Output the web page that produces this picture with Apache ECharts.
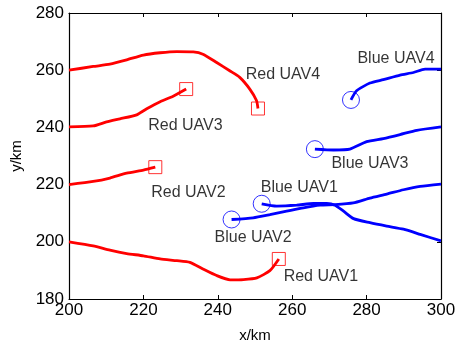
<!DOCTYPE html>
<html>
<head>
<meta charset="utf-8">
<script src="https://cdn.jsdelivr.net/npm/echarts@6/dist/echarts.min.js"></script>
<style>
  html, body { margin: 0; padding: 0; background: #fff; }
  #chart { width: 461px; height: 348px; }
</style>
</head>
<body>
<div id="chart"></div>
<script>
// flight paths, [x km, y km]
const redUav1 = [[200,200],[206.5,198.6],[211,197.1],[215.5,195.9],[220,195.1],[224.5,194],[229,193.4],[232.5,192.8],[236,190.5],[239.7,188.2],[243.3,186.7],[246.9,186.8],[250.5,187.4],[254,189.9],[256.4,194]];
const redUav2 = [[200,220],[206.5,221.1],[211,222.3],[215.5,224],[220,225.1],[223.2,226.1]];
const redUav3 = [[200,240.2],[206.5,240.5],[210.1,241.9],[213.7,243],[218.2,244.4],[220.9,246.5],[224.5,249],[228,250.9],[231.5,253.4]];
const redUav4 = [[200,260],[206.5,261.3],[211,262.1],[215.5,263.6],[220,265.3],[224.5,266.1],[229,266.5],[233.4,266.4],[236,265.6],[239.7,262.7],[243.2,259.8],[245.9,257.5],[248.6,253.4],[250.4,249.4],[250.8,246.6]];

const blueUav1 = [[251.8,213.3],[255.8,212.5],[261.2,212.8],[265.7,213.4],[269.3,213.4],[271.5,212.8],[273.8,210.7],[276.5,208.1],[280.9,206.7],[285.4,205.5],[289.9,204.4],[294.4,202.6],[300,200.3]];
const blueUav2 = [[243.7,207.8],[249.5,208.4],[254,209.5],[258.5,210.7],[263,211.9],[267.5,212.8],[271.5,213],[276.4,213.6],[280.9,215.3],[285.4,216.7],[289.9,218.2],[294.4,219.4],[300,220.2]];
const blueUav3 = [[266.1,232.4],[271.1,232.1],[275.5,232.4],[280,235],[284.5,236.1],[289,237.5],[293.5,239],[300,240.2]];
const blueUav4 = [[275.8,249.6],[277.3,252.8],[280.9,255.5],[284.5,256.7],[289,258.3],[292.6,259.2],[295.7,260.4],[300,260.4]];

// text annotations [x, y, name]
const redLabels = [[267.7,187.7,'Red UAV1'],[232.1,217.2,'Red UAV2'],[231.3,240.6,'Red UAV3'],[257.5,258.6,'Red UAV4']];
const blueLabels = [[261.9,219,'Blue UAV1'],[249.5,201.4,'Blue UAV2'],[280.9,227.3,'Blue UAV3'],[287.9,263.9,'Blue UAV4']];

const xTicks = { min: 200, max: 300, interval: 20 };
const yTicks = { min: 180, max: 280, interval: 20 };

const FONT = 'Liberation Sans, Arial, Helvetica, sans-serif';
const RED = '#ff0000';
const BLUE = '#0000ff';

const redPaths = [redUav1, redUav2, redUav3, redUav4];
const bluePaths = [blueUav1, blueUav2, blueUav3, blueUav4];

function pathSeries(data, color) {
    return {
        type: 'line',
        data: data,
        showSymbol: false,
        smooth: 0.2,
        lineStyle: { color: color, width: 2.8 },
        z: 3
    };
}

let series = [];
redPaths.forEach(p => series.push(pathSeries(p, RED)));
bluePaths.forEach(p => series.push(pathSeries(p, BLUE)));

// squares at red path ends, circles at blue path starts
series.push({
    type: 'scatter',
    data: redPaths.map(p => p[p.length - 1]),
    symbol: 'rect',
    symbolSize: 13,
    itemStyle: { color: 'rgba(0,0,0,0)', borderColor: RED, borderWidth: 1 },
    z: 4
});
series.push({
    type: 'scatter',
    data: bluePaths.map(p => p[0]),
    symbol: 'circle',
    symbolSize: 17,
    itemStyle: { color: 'rgba(0,0,0,0)', borderColor: BLUE, borderWidth: 1 },
    z: 4
});

series.push({
    type: 'scatter',
    data: redLabels.concat(blueLabels),
    symbolSize: 0,
    label: {
        show: true,
        position: 'inside',
        formatter: p => p.data[2],
        color: '#000',
        textBorderWidth: 0,
        fontFamily: FONT,
        fontSize: 16
    },
    z: 5
});

const tickStyle = { show: true, inside: true, length: 4, lineStyle: { color: '#000', width: 1 } };
const lineStyle = { show: true, lineStyle: { color: '#000', width: 1.2 } };

let option = {
    animation: false,
    backgroundColor: '#fff',
    grid: { left: 69, right: 20, top: 13, bottom: 46 },
    xAxis: [
        {
            type: 'value', ...xTicks,
            name: 'x/km', nameLocation: 'middle', nameGap: 29,
            nameTextStyle: { color: '#000', fontFamily: FONT, fontSize: 15 },
            axisLine: lineStyle, axisTick: tickStyle,
            splitLine: { show: false },
            axisLabel: { color: '#000', fontFamily: FONT, fontSize: 17, margin: 3 }
        },
        {
            type: 'value', ...xTicks, position: 'top',
            axisLine: lineStyle, axisTick: tickStyle,
            splitLine: { show: false }, axisLabel: { show: false }
        }
    ],
    yAxis: [
        {
            type: 'value', ...yTicks,
            name: 'y/km', nameLocation: 'middle', nameGap: 37,
            nameTextStyle: { color: '#000', fontFamily: FONT, fontSize: 15 },
            axisLine: lineStyle, axisTick: tickStyle,
            splitLine: { show: false },
            axisLabel: { color: '#000', fontFamily: FONT, fontSize: 17, margin: 5 }
        },
        {
            type: 'value', ...yTicks, position: 'right',
            axisLine: lineStyle, axisTick: tickStyle,
            splitLine: { show: false }, axisLabel: { show: false }
        }
    ],
    series: series
};

let myChart = echarts.init(document.getElementById('chart'), null, { renderer: 'canvas' });
myChart.setOption(option);
</script>
</body>
</html>
